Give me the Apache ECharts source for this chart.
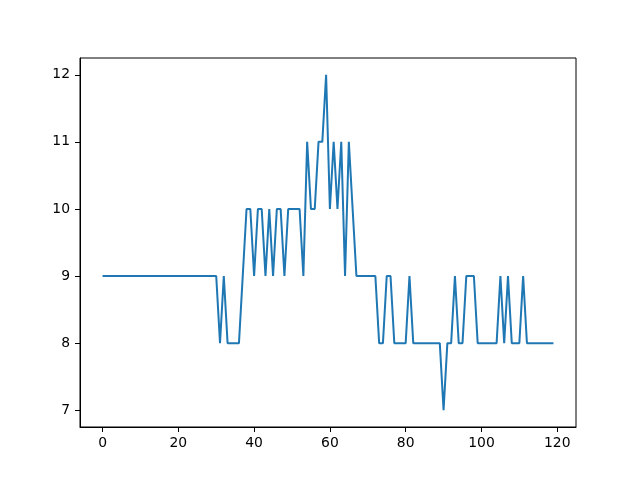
<!DOCTYPE html>
<html>
<head>
<meta charset="utf-8">
<script src="https://cdn.jsdelivr.net/npm/echarts@6/dist/echarts.min.js"></script>
<style>html,body{margin:0;padding:0;background:#fff}#c{width:640px;height:480px}</style>
</head>
<body>
<div id="c"></div>
<script>
var values = [
  9,9,9,9,9,9,9,9,9,9,
  9,9,9,9,9,9,9,9,9,9,
  9,9,9,9,9,9,9,9,9,9,
  9,8,9,8,8,8,8,9,10,10,
  9,10,10,9,10,9,10,10,9,10,
  10,10,10,9,11,10,10,11,11,12,
  10,11,10,11,9,11,10,9,9,9,
  9,9,9,8,8,9,9,8,8,8,
  8,9,8,8,8,8,8,8,8,8,
  7,8,8,9,8,8,9,9,9,8,
  8,8,8,8,8,9,8,9,8,8,
  8,9,8,8,8,8,8,8,8,8
];
var xTicks = [0, 20, 40, 60, 80, 100, 120];
var yTicks = [7, 8, 9, 10, 11, 12];

var points = values.map(function (v, i) { return [i, v]; });
var chart = echarts.init(document.getElementById('c'), null, {renderer: 'canvas'});
var labelStyle = {color: '#000', fontFamily: 'DejaVu Sans', fontSize: 13.9};
chart.setOption({
  animation: false,
  backgroundColor: '#fff',
  grid: {left: 80, right: 64, top: 58, bottom: 53, show: true, borderColor: '#000', borderWidth: 1, backgroundColor: 'transparent', containLabel: false},
  xAxis: {
    type: 'value', min: -5.95, max: 124.95,
    splitLine: {show: false},
    axisLine: {show: true, onZero: false, lineStyle: {color: '#000', width: 1}},
    axisTick: {show: true, length: 5, lineStyle: {color: '#000'}, customValues: xTicks},
    axisLabel: Object.assign({margin: 9, customValues: xTicks}, labelStyle)
  },
  yAxis: {
    type: 'value', min: 6.75, max: 12.25,
    splitLine: {show: false},
    axisLine: {show: true, onZero: false, lineStyle: {color: '#000', width: 1}},
    axisTick: {show: true, length: 5, lineStyle: {color: '#000'}, customValues: yTicks},
    axisLabel: Object.assign({margin: 10, customValues: yTicks}, labelStyle)
  },
  series: [{
    type: 'line', data: points, showSymbol: false, symbol: 'none',
    lineStyle: {color: '#1f77b4', width: 2},
    itemStyle: {color: '#1f77b4'}
  }]
});
</script>
</body>
</html>
